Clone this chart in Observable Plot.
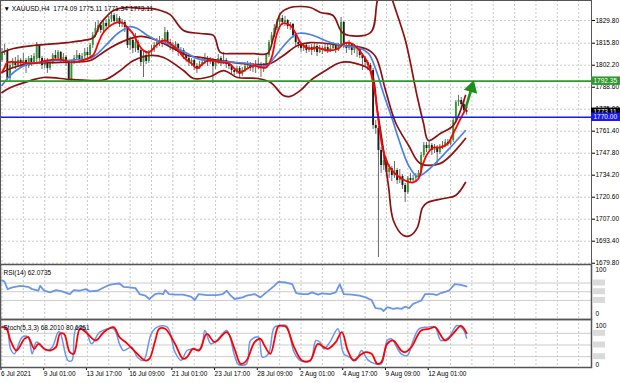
<!DOCTYPE html>
<html><head><meta charset="utf-8">
<script src="https://cdn.jsdelivr.net/npm/d3@7"></script>
<script src="https://cdn.jsdelivr.net/npm/@observablehq/plot@0.6"></script>
<style>
body{margin:0;background:#fff;}
#chart{width:620px;height:383px;overflow:hidden;position:relative;}
#chart svg{display:block;}
</style></head><body><div id="chart"></div>
<script>
// ---------- DATA ----------
const titleText = "▼ XAUUSD,H4  1774.09 1775.11 1771.34 1773.11";
const rsiLabel = "RSI(14) 62.0735";
const stochLabel = "Stoch(5,3,3) 68.2010 80.6261";
const priceTicks = [1829.80,1815.80,1802.20,1788.60,1775.00,1761.40,1747.80,1734.20,1720.60,1707.00,1693.40,1679.80];
const labelBars = [0,16,32,48,64,80,96,112,128,144,160];
const timeLabels = ["6 Jul 2021","9 Jul 01:00","13 Jul 17:00","16 Jul 09:00","21 Jul 01:00","23 Jul 17:00","28 Jul 09:00","2 Aug 01:00","4 Aug 17:00","9 Aug 09:00","12 Aug 01:00"];
const greenLevel = 1792.35;
const blueLevel = 1770.00;
const lastPrice = 1773.11;
const rsiLevels = [70,50,30];
const stochLevels = [80,50,20];
const arrowShaft = [{b1:173.7,p1:1775.8,b2:175.6,p2:1786.5}];
const arrowHead = [{b:175.9,p:1788.2}];

const open = [
1805.1,1810.1,1811.3,1794.0,1802.0,1803.9,1802.0,1805.1,1803.3,1805.1,
1801.4,1806.3,1803.9,1806.0,1814.4,1806.3,1802.0,1805.1,1800.2,1803.9,
1808.2,1806.3,1810.1,1805.1,1807.0,1803.9,1793.4,1803.9,1806.3,1808.2,
1805.1,1807.6,1810.1,1808.2,1814.4,1820.6,1824.9,1826.7,1823.7,1828.0,
1826.1,1830.4,1832.9,1829.2,1831.1,1827.4,1828.6,1825.5,1814.4,1817.5,
1812.5,1816.2,1811.3,1803.9,1808.2,1804.5,1810.1,1811.3,1814.4,1816.2,
1817.5,1815.0,1822.4,1816.2,1814.4,1812.5,1815.0,1810.1,1811.3,1808.2,
1806.3,1803.9,1805.1,1801.4,1800.2,1802.6,1803.9,1806.3,1803.9,1805.1,
1801.4,1803.9,1806.3,1803.9,1805.1,1802.6,1801.4,1798.9,1797.7,1800.2,
1796.5,1798.9,1801.4,1802.6,1800.2,1802.0,1801.4,1802.6,1800.2,1801.4,
1808.2,1816.2,1820.6,1824.9,1828.6,1831.1,1828.6,1829.8,1826.1,1827.4,
1820.6,1816.2,1815.0,1812.5,1814.4,1811.3,1813.1,1811.3,1813.8,1810.1,
1812.5,1811.3,1813.1,1811.3,1812.5,1814.4,1811.3,1813.8,1828.6,1814.4,
1812.5,1815.0,1811.3,1813.1,1812.5,1808.2,1806.3,1803.9,1802.0,1798.9,
1764.9,1763.1,1749.5,1740.2,1743.3,1735.9,1738.3,1734.0,1737.1,1730.9,
1733.4,1727.8,1723.5,1732.2,1730.9,1732.2,1733.4,1735.3,1746.4,1752.6,
1750.7,1752.6,1749.5,1751.3,1748.2,1751.9,1752.6,1754.4,1753.2,1755.7,
1768.0,1779.2,1780.4,1777.9,1774.09];
const high = [
1812.5,1815.0,1812.5,1803.3,1806.3,1807.0,1808.2,1806.3,1809.4,1806.3,
1807.6,1808.2,1809.4,1816.2,1815.0,1807.6,1806.3,1806.3,1805.1,1809.4,
1811.3,1811.3,1810.7,1809.4,1808.2,1805.1,1805.1,1808.2,1811.3,1809.4,
1809.4,1812.5,1813.1,1815.6,1822.4,1828.6,1829.8,1828.6,1830.4,1830.4,
1832.3,1834.8,1834.2,1833.5,1832.3,1830.4,1829.8,1826.1,1819.3,1818.7,
1821.8,1817.5,1812.5,1811.3,1810.1,1811.3,1814.4,1816.2,1818.7,1819.9,
1818.7,1825.5,1823.7,1818.1,1816.2,1816.8,1815.6,1813.1,1812.5,1809.4,
1807.6,1806.3,1806.3,1803.3,1804.5,1806.3,1809.4,1807.6,1807.0,1806.3,
1805.1,1808.8,1807.6,1810.1,1806.3,1803.9,1802.6,1800.2,1801.4,1801.4,
1800.8,1802.6,1804.5,1803.9,1803.3,1805.1,1806.3,1803.9,1803.3,1809.4,
1817.5,1822.4,1827.4,1830.4,1833.5,1832.9,1832.3,1830.4,1828.6,1828.0,
1822.4,1818.1,1816.2,1815.6,1815.0,1814.4,1815.0,1815.6,1815.0,1814.4,
1813.8,1815.0,1815.6,1814.4,1816.2,1815.0,1815.6,1831.7,1829.2,1816.2,
1817.5,1815.6,1815.0,1814.4,1813.1,1809.4,1807.6,1805.1,1803.3,1800.2,
1768.0,1764.3,1751.3,1747.6,1744.5,1740.8,1739.6,1742.7,1738.3,1737.7,
1734.6,1729.1,1733.4,1735.3,1734.0,1735.3,1737.1,1748.2,1754.4,1754.4,
1755.0,1753.8,1753.2,1752.6,1753.2,1755.0,1756.3,1756.3,1757.5,1769.2,
1780.4,1783.5,1782.3,1780.4,1775.11];
const low = [
1803.9,1808.2,1792.7,1791.5,1800.2,1799.5,1800.8,1800.2,1801.4,1797.1,
1800.2,1801.4,1802.6,1803.3,1804.5,1799.5,1800.2,1797.1,1798.9,1802.6,
1805.1,1804.5,1803.3,1803.9,1801.4,1791.5,1791.5,1802.6,1805.1,1803.3,
1804.5,1806.3,1805.1,1806.3,1812.5,1819.3,1822.4,1821.8,1822.4,1824.3,
1825.5,1828.6,1827.4,1828.0,1825.5,1825.5,1822.4,1812.5,1811.3,1809.4,
1810.1,1809.4,1801.4,1794.6,1802.6,1803.3,1808.2,1810.1,1812.5,1813.8,
1813.1,1814.4,1814.4,1811.3,1810.1,1810.7,1807.6,1808.2,1805.7,1803.9,
1801.4,1801.4,1798.9,1797.1,1799.5,1801.4,1802.6,1801.4,1802.6,1790.9,
1799.5,1802.6,1801.4,1802.6,1800.2,1799.5,1796.5,1795.8,1796.5,1794.6,
1795.2,1797.7,1799.5,1798.3,1797.7,1797.1,1799.5,1794.6,1797.7,1800.2,
1807.0,1815.0,1819.3,1823.7,1826.7,1826.7,1826.1,1824.3,1823.7,1818.7,
1813.8,1812.5,1810.1,1810.7,1809.4,1810.1,1808.2,1810.1,1807.6,1809.4,
1808.8,1810.1,1809.4,1810.1,1811.3,1809.4,1810.7,1813.1,1812.5,1809.4,
1811.3,1808.2,1809.4,1807.0,1806.3,1798.9,1801.4,1798.9,1796.5,1762.4,
1759.4,1683.3,1735.3,1737.1,1733.4,1732.2,1730.3,1732.2,1728.5,1729.1,
1725.4,1717.3,1722.3,1729.1,1729.7,1730.3,1731.5,1734.6,1745.1,1748.2,
1749.5,1746.4,1747.6,1741.4,1747.0,1750.1,1751.3,1751.9,1752.6,1754.4,
1766.7,1776.6,1775.4,1772.2,1771.34];
const close = [
1810.1,1811.3,1794.0,1802.0,1803.9,1802.0,1805.1,1803.3,1805.1,1801.4,
1806.3,1803.9,1807.6,1814.4,1806.3,1802.0,1805.1,1800.2,1803.9,1808.2,
1806.3,1810.1,1805.1,1807.0,1803.9,1793.4,1803.9,1806.3,1808.2,1805.1,
1807.6,1810.1,1808.2,1814.4,1820.6,1824.9,1826.7,1823.7,1828.0,1826.1,
1830.4,1832.9,1829.2,1831.1,1827.4,1828.6,1825.5,1814.4,1817.5,1812.5,
1816.2,1811.3,1803.9,1808.2,1804.5,1810.1,1811.3,1814.4,1816.2,1817.5,
1815.0,1822.4,1816.2,1814.4,1812.5,1815.0,1810.1,1811.3,1808.2,1806.3,
1803.9,1805.1,1801.4,1800.2,1802.6,1803.9,1806.3,1803.9,1805.1,1801.4,
1803.9,1806.3,1803.9,1805.1,1802.6,1801.4,1798.9,1797.7,1800.2,1796.5,
1798.9,1801.4,1802.6,1800.2,1802.0,1801.4,1802.6,1800.2,1801.4,1808.2,
1816.2,1820.6,1824.9,1828.6,1831.1,1828.6,1829.8,1826.1,1827.4,1820.6,
1816.2,1815.0,1812.5,1814.4,1811.3,1813.1,1811.3,1813.8,1810.1,1812.5,
1811.3,1813.1,1811.3,1812.5,1814.4,1811.3,1813.8,1828.6,1814.4,1812.5,
1815.0,1811.3,1813.1,1812.5,1808.2,1806.3,1803.9,1802.0,1798.9,1764.9,
1763.1,1749.5,1740.2,1743.3,1735.9,1738.3,1734.0,1737.1,1730.9,1733.4,
1727.8,1723.5,1732.2,1730.9,1732.2,1733.4,1735.3,1746.4,1752.6,1750.7,
1752.6,1749.5,1751.3,1748.2,1751.9,1752.6,1754.4,1753.2,1755.7,1768.0,
1779.2,1780.4,1777.9,1774.1,1773.11];

// indicator lines read as [bar, value] points
const redMA = [[0,1797.7],[1,1800.8],[2,1803.9],[7,1803.9],[12,1803.3],[17,1805.1],[22,1805.7],[26,1803.9],[30,1805.1],[34,1808.2],[36,1815.6],[38,1822.4],[42,1828.0],[45,1828.6],[47,1825.5],[49,1821.8],[51,1815.6],[53,1811.3],[55,1810.1],[57,1813.1],[59,1816.2],[61,1817.5],[63,1815.6],[66,1811.3],[68,1807.0],[71,1803.3],[73,1800.2],[74.5,1802.0],[77,1805.1],[79,1805.1],[82,1803.9],[85,1803.3],[87,1800.2],[89,1797.7],[92,1800.2],[94,1802.0],[97,1800.8],[99,1800.8],[101,1807.0],[103,1821.8],[105,1828.0],[108,1826.7],[110,1821.8],[112,1815.6],[114,1813.1],[116,1812.5],[118,1813.1],[122,1811.3],[126,1812.5],[128,1815.6],[131,1815.6],[134.3,1810.5],[137.3,1802.4],[138.8,1792.7],[140,1782.2],[141,1768.0],[142.5,1751.3],[144,1743.3],[145.5,1738.3],[148,1734.0],[151,1730.9],[154,1729.7],[156,1732.2],[157.5,1740.2],[159.4,1747.6],[161.6,1751.3],[164,1751.3],[167,1753.8],[169,1760.0],[172,1769.9],[174,1776.0]];
const blueMA = [[0,1789.7],[2,1794.0],[4.3,1797.7],[7,1800.8],[10.7,1803.3],[14.4,1803.9],[19.3,1805.1],[24.5,1805.1],[29.4,1805.7],[33,1806.3],[35.8,1809.4],[39.5,1815.6],[43.3,1821.8],[46.3,1824.9],[48,1826.1],[50.7,1824.9],[54.5,1820.6],[58.2,1817.5],[62,1815.6],[65.7,1812.5],[69.5,1809.4],[73.2,1806.3],[77,1805.1],[81.8,1804.5],[86.7,1803.9],[92,1803.3],[95.7,1802.0],[99.4,1802.0],[101.7,1806.3],[105,1813.1],[108,1818.7],[110.7,1821.8],[115.5,1821.2],[119.3,1818.7],[123,1816.2],[127.9,1814.4],[134.3,1812.5],[137.3,1809.4],[139.9,1800.2],[143,1784.1],[146.6,1766.8],[148.5,1756.9],[152.3,1740.2],[155.6,1733.4],[159.4,1737.1],[166.9,1749.5],[173.6,1761.8]];
const bbUpper = [[0,1810.1],[4.3,1812.5],[11.8,1814.4],[24.5,1816.2],[30.5,1817.5],[34.3,1819.3],[36.9,1828.0],[39.5,1832.9],[41.8,1836.0],[47,1837.9],[51.9,1837.3],[55.6,1837.3],[59.4,1836.0],[63,1833.5],[68,1823.7],[74.3,1821.8],[79.2,1820.6],[81.8,1810.1],[86.7,1809.4],[94.2,1809.4],[99.4,1809.4],[101.7,1819.3],[104.3,1834.2],[108,1837.9],[111.8,1838.5],[115.5,1837.9],[119.3,1834.8],[124,1832.9],[127.9,1821.8],[138,1822.4],[140.6,1842.2],[143.5,1858],[146.3,1842.2],[151.1,1817.5],[155.6,1782.2],[157.9,1766.2],[159.7,1755.7],[164.2,1760.0],[169,1764.9],[171,1771.1],[173.6,1783.5]];
const bbMiddle = [[0,1797.7],[4.3,1800.8],[10.7,1803.3],[21.9,1803.9],[33.1,1805.1],[36.9,1809.0],[40.6,1813.0],[47,1818.0],[51.9,1820.0],[58.2,1817.5],[64.2,1812.5],[69.5,1808.2],[74.3,1807.0],[81.8,1805.1],[89.3,1803.3],[96.8,1802.6],[100.6,1803.3],[105.4,1808.2],[110.7,1814.4],[115.5,1816.2],[127.9,1814.4],[136.1,1812.5],[139.9,1807.6],[143.6,1787.0],[147.4,1766.8],[152.3,1752.6],[156.7,1741.5],[164.2,1741.5],[173.6,1756.9]];
const bbLower = [[0,1785.3],[3.2,1788.4],[10.7,1792.7],[15.5,1794.6],[25.7,1793.4],[35,1792.7],[38.8,1793.4],[43.3,1797.7],[49.3,1805.1],[55.6,1808.2],[60.5,1807.0],[68,1798.9],[71.7,1794.0],[78.1,1795.2],[83,1798.9],[88.2,1794.6],[95.7,1794.0],[100.6,1791.5],[105.4,1783.5],[108,1782.9],[111.8,1786.6],[115.5,1792.7],[121.2,1798.9],[126.8,1803.9],[132.4,1803.3],[138,1798.9],[140.5,1775.0],[142.9,1749.5],[144.8,1727.0],[146.6,1706.2],[150.4,1696.9],[153,1696.9],[155.6,1701.9],[157.5,1714.2],[159.4,1717.3],[165.4,1719.8],[169.9,1721.7],[173.6,1729.7]];
const rsi = [[0,76.5],[0.9,73.5],[2.1,56],[3.9,60],[6.9,63.6],[9.8,61.4],[11.3,56],[13.6,52.3],[14.3,63.6],[15.8,52.3],[18,48.5],[20.3,53.8],[22.5,50.8],[25.4,44.7],[26.9,53.8],[29.2,52.3],[31.4,56],[32.9,50.8],[35.8,52.3],[38.1,59.8],[40.3,65.9],[41.8,67.4],[44,68.9],[45.5,61.4],[47.8,59.8],[50,58.3],[51.5,44.7],[53.7,40.9],[55.2,33.3],[57.4,44.7],[58.9,46.2],[60.4,44.7],[61.1,53.8],[62.6,44.7],[64.8,43.2],[67.8,43.2],[70.8,38.6],[72.2,31],[73.7,44.7],[76.7,42.4],[80.4,42.4],[82.7,44.7],[84.2,52.3],[85.7,40.9],[87.1,33.3],[90.1,37.1],[91.6,40.9],[94.6,44.7],[96.8,37.1],[99,48.5],[102,63.6],[103.5,72.7],[106.4,71.2],[108.7,67.4],[110.2,47],[112.4,44.7],[114.6,44.7],[116.1,48.5],[118.4,43.2],[119.8,46.2],[122.8,44.7],[125,48.5],[126.5,67.4],[128,44.7],[131,43.2],[133.9,40.9],[136.2,37.1],[138.4,31],[139.9,12.1],[142.1,10.6],[142.9,5.3],[144.3,14.4],[146.6,10.6],[148,12.1],[149.6,10.6],[151.1,15.9],[152.5,12.1],[154,22],[155.5,25.8],[157,29.5],[158.5,44.7],[161.4,44.7],[162.9,42.4],[164.4,47],[167.4,52.3],[169.6,67.4],[171.8,65.9],[174,62.07]];
const stochMain = [[0,97.4],[1.7,95.7],[3.2,40.2],[4.6,27.4],[7.6,70.1],[9.8,70.1],[11.3,27.4],[12.8,57.3],[14.3,53],[16.5,35.9],[18.8,44.4],[21,82.9],[21.7,82.9],[24.7,10.3],[26.2,10.3],[27.7,91.5],[30.7,95.7],[33.6,53],[36.6,82.9],[41.8,91.5],[44,53],[45.5,35.9],[48.5,44.4],[50.7,18.8],[53,10.3],[55.9,78.6],[58.1,95.7],[61.9,95.7],[64.8,31.6],[67.1,10.3],[69.3,35.9],[71.5,40.2],[74.5,40.2],[76,87.2],[78.2,53],[80.4,61.5],[84.2,87.2],[87.1,23.1],[88.6,0],[91.6,1.7],[93.1,61.5],[96.1,70.1],[97.5,18.8],[99.8,27.4],[102,95.7],[104.2,100],[106.5,100],[109.4,31.6],[111.7,10.3],[115.4,8.5],[117.6,61.5],[119.1,57.3],[120.6,40.2],[122.8,57.3],[125.8,91.5],[128,27.4],[130.2,18.8],[132.5,10.3],[134.7,35.9],[137,12],[139.9,1.7],[142.1,1.7],[144.3,61.5],[145.8,65.8],[149.5,27.4],[151.8,23.1],[154,61.5],[156.2,91.5],[159.2,95.7],[162.2,95.7],[164.4,61.5],[167.4,70.1],[170.4,100],[172.6,91.5],[174,68.2]];
const stochSignal = [[0,95.7],[1.7,91.5],[3.2,61.5],[5.4,35.9],[8.4,65.8],[9.8,70.1],[12.1,40.2],[13.6,53],[15.8,40.2],[18,35.9],[20.2,44.4],[21.7,78.6],[23.2,78.6],[25.4,31.6],[26.9,27.4],[29.2,91.5],[31.4,82.9],[35.1,61.5],[38.1,82.9],[41.8,95.7],[44,70.1],[47,53],[50.7,27.4],[53.7,10.3],[55.2,14.5],[57.4,61.5],[58.9,91.5],[61.1,91.5],[64.8,53],[67.8,14.5],[69.3,18.8],[71.5,40.2],[73.8,35.9],[76.7,78.6],[79.7,57.3],[84.2,82.9],[87.1,40.2],[89.4,1.7],[91.6,10.3],[94.6,57.3],[96.8,65.8],[98.3,48.7],[100.5,27.4],[103.5,98],[105,99],[106.5,95.7],[109.4,44.4],[112.4,10.3],[115.4,10.3],[118.3,53],[120.6,44.4],[122.1,40.2],[125,57.3],[127.3,82.9],[129.5,35.9],[131.7,10.3],[134,23.1],[136.2,31.6],[138.4,27.4],[140.6,1.7],[142.1,6],[144.3,53],[146.6,61.5],[149.5,35.9],[151,31.6],[153.3,44.4],[157,87.2],[160,91.5],[162.2,95.7],[166,61.5],[168.9,78.6],[171.9,99],[174,80.6]];

// ---------- CHART ----------
const W = 620;
const FONT = "'Liberation Sans', Arial, sans-serif";
const FS = "6.5px";
const xDom = [-0.56, 220.8];
const gridBars = d3.range(0, 221, 8);
const bars = open.map((o, i) => ({i, o, h: high[i], l: low[i], c: close[i]}));
const bulls = bars.filter(d => d.c >= d.o), bears = bars.filter(d => d.c < d.o);
const GRID = {stroke: "#c8c8c8", strokeDasharray: "2,2", strokeWidth: 1};
const style = {fontFamily: FONT, fontSize: FS, background: "transparent", overflow: "visible", color: "#000"};
const px = d => d[0], py = d => d[1];

const main = Plot.plot({
  width: W, height: 264, marginLeft: 0, marginRight: 29, marginTop: 0, marginBottom: 0,
  x: {domain: xDom, axis: null},
  y: {domain: [1679.0, 1842.2], axis: null},
  style,
  marks: [
    Plot.ruleY(priceTicks, GRID),
    Plot.ruleX(gridBars, GRID),
    Plot.ruleX(bars, {x: "i", y1: "l", y2: "h", stroke: "#6a6a6a", strokeWidth: 1, clip: true}),
    Plot.ruleX(bulls, {x: "i", y1: "o", y2: "c", stroke: "#2f9a2f", strokeWidth: 1.9}),
    Plot.ruleX(bears, {x: "i", y1: "o", y2: "c", stroke: "#1c1c1c", strokeWidth: 1.9}),
    Plot.line(bbUpper, {x: px, y: py, stroke: "#8e1010", strokeWidth: 1.7, curve: "catmull-rom", clip: true}),
    Plot.line(bbMiddle, {x: px, y: py, stroke: "#8e1010", strokeWidth: 1.7, curve: "catmull-rom", clip: true}),
    Plot.line(bbLower, {x: px, y: py, stroke: "#8e1010", strokeWidth: 1.7, curve: "catmull-rom", clip: true}),
    Plot.line(blueMA, {x: px, y: py, stroke: "#4a80ea", strokeWidth: 1.7, curve: "catmull-rom", clip: true}),
    Plot.line(redMA, {x: px, y: py, stroke: "#ff0000", strokeWidth: 1.8, curve: "catmull-rom", clip: true}),
    Plot.ruleY([greenLevel], {stroke: "#2e992e", strokeWidth: 1.6}),
    Plot.ruleY([blueLevel], {stroke: "#1616ff", strokeWidth: 1.6}),
    Plot.link(arrowShaft, {x1: "b1", y1: "p1", x2: "b2", y2: "p2", stroke: "#1e8f1e", strokeWidth: 2.6}),
    Plot.dot(arrowHead, {x: "b", y: "p", symbol: "triangle", r: 4.2, fill: "#1e8f1e", stroke: "#1e8f1e", rotate: 16}),
    Plot.axisY({anchor: "right", ticks: priceTicks, tickFormat: d3.format(".2f"), tickSize: 3, tickPadding: 1, label: null, fontSize: 6.5}),
    Plot.text([titleText], {frameAnchor: "top-left", dx: 3, dy: 6, textAnchor: "start", fontSize: 6.6, fill: "#000"}),
    Plot.frame({stroke: "#555", strokeWidth: 1})
  ]
});

// price markers on the right axis (positioned through the plot's y scale)
{
  const ys = main.scale("y");
  const g = d3.select(main).append("g").attr("font-family", FONT).attr("font-size", 6.5).attr("text-anchor", "start");
  const markers = [[lastPrice, "#000000"], [greenLevel, "#2e992e"], [blueLevel, "#1616ff"]];
  for (const [v, col] of markers) {
    const y = ys.apply(v);
    g.append("rect").attr("x", 591).attr("y", y - 4.2).attr("width", 29).attr("height", 8.4).attr("fill", col);
    g.append("text").attr("x", 593.5).attr("y", y + 2.3).attr("text-anchor", "start").attr("fill", "#fff").text(d3.format(".2f")(v));
  }
}

function levelBoxes(plot, levels) {
  const ys = plot.scale("y");
  const g = d3.select(plot).append("g");
  for (const v of levels) {
    g.append("rect").attr("x", 593).attr("y", ys.apply(v) - 3).attr("width", 12).attr("height", 6).attr("fill", "#dadada");
  }
}

const rsiPlot = Plot.plot({
  width: W, height: 55, marginLeft: 0, marginRight: 29, marginTop: 0, marginBottom: 0,
  x: {domain: xDom, axis: null},
  y: {domain: [-13.8, 112.6], axis: null},
  style,
  marks: [
    Plot.ruleX(gridBars, GRID),
    Plot.ruleY(rsiLevels, {stroke: "#cccccc", strokeWidth: 1}),
    Plot.line(rsi, {x: px, y: py, stroke: "#6a96ea", strokeWidth: 1.8}),
    Plot.axisY({anchor: "right", ticks: [0, 100], tickSize: 0, tickPadding: 4, label: null, fontSize: 6.5}),
    Plot.text([rsiLabel], {frameAnchor: "top-left", dx: 3, dy: 6, textAnchor: "start", fontSize: 6.5, fill: "#000"}),
    Plot.frame({stroke: "#555", strokeWidth: 1.5})
  ]
});
levelBoxes(rsiPlot, rsiLevels);

const labelMap = new Map(labelBars.map((b, i) => [b, timeLabels[i]]));
const stochPlot = Plot.plot({
  width: W, height: 64, marginLeft: 0, marginRight: 29, marginTop: 0, marginBottom: 16,
  x: {domain: xDom, axis: null},
  y: {domain: [-7.7, 115.4], axis: null},
  style,
  marks: [
    Plot.ruleX(gridBars, GRID),
    Plot.ruleY(stochLevels, {stroke: "#cccccc", strokeWidth: 1}),
    Plot.line(stochMain, {x: px, y: py, stroke: "#6a96ea", strokeWidth: 1.5, curve: "catmull-rom"}),
    Plot.line(stochSignal, {x: px, y: py, stroke: "#ff0000", strokeWidth: 1.8, curve: "catmull-rom"}),
    Plot.axisY({anchor: "right", ticks: [0, 100], tickSize: 0, tickPadding: 4, label: null, fontSize: 6.5}),
    Plot.axisX({anchor: "bottom", ticks: labelBars, tickFormat: d => labelMap.get(d), tickSize: 3, tickPadding: 1, textAnchor: "start", dx: -1, label: null, fontSize: 6.5}),
    Plot.text([stochLabel], {frameAnchor: "top-left", dx: 3, dy: 6, textAnchor: "start", fontSize: 6.5, fill: "#000"}),
    Plot.frame({stroke: "#555", strokeWidth: 1.5})
  ]
});
levelBoxes(stochPlot, stochLevels);

const root = document.getElementById("chart");
root.append(main, rsiPlot, stochPlot);
</script>
</body></html>
